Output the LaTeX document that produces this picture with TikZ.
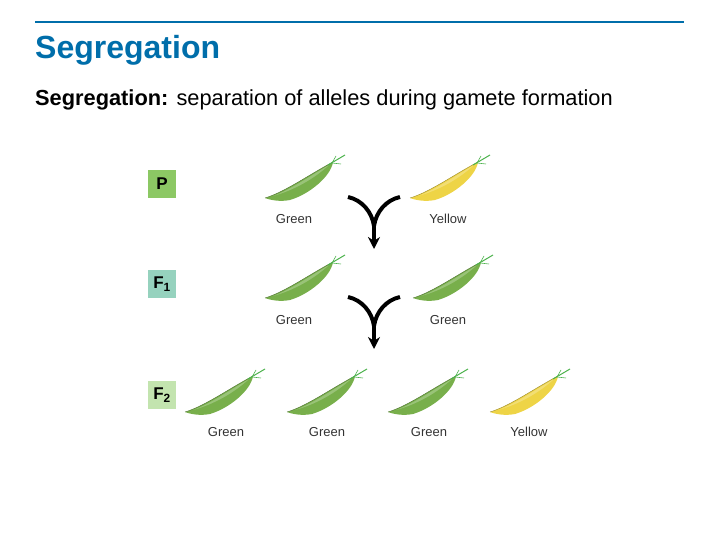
\documentclass[tikz,border=0pt]{standalone}
\usepackage{fontspec}
\setmainfont{Liberation Sans}
\usetikzlibrary{arrows.meta}
\definecolor{ttl}{RGB}{0,110,170}
\definecolor{pg}{RGB}{120,175,75}
\definecolor{py}{RGB}{238,212,70}
\definecolor{bP}{RGB}{140,200,100}
\definecolor{bF}{RGB}{150,210,190}
\definecolor{bFF}{RGB}{195,228,175}
\tikzset{
  gen/.style={minimum width=28pt,minimum height=28pt,inner sep=0pt,font=\bfseries\fontsize{17}{17}\selectfont},
  lab/.style={font=\fontsize{13}{13}\selectfont,text=black!80},
  pod/.pic={
    \fill[#1] (0,0) .. controls (20,-6) and (45,-24) .. (68,-36)
      .. controls (66,-22) and (45,-4) .. (25,2) .. controls (15,4) and (5,2) .. (0,0) -- cycle;
    \fill[white,opacity=0.25] (8,-2) .. controls (25,-8) and (45,-22) .. (64,-33)
      .. controls (50,-20) and (30,-8) .. (8,-2) -- cycle;
    \draw[#1!65!black,line width=0.4pt] (0,0) .. controls (20,-6) and (45,-24) .. (68,-36);
    \draw[green!40!gray,line width=1pt] (63,-33) -- (80,-43);
    \draw[green!40!gray,line width=0.6pt] (67,-35) -- (76,-34) (67,-35) -- (71,-42);
  },
  link/.style={line width=4pt,black},
}
\begin{document}
\begin{tikzpicture}[x=1pt,y=-1pt]
\useasboundingbox (0,0) rectangle (720,540);
\draw[ttl,line width=2.5pt] (35,22) -- (684,22);
\node[anchor=west,inner sep=0pt,text=ttl,font=\bfseries\fontsize{32}{32}\selectfont] (title) at (35,50) {Segregation};
\node[anchor=west,inner sep=0pt,font=\fontsize{21.8}{22}\selectfont] (sub) at (35,100) {\textbf{Segregation:} separation of alleles during gamete formation};
\node[gen,fill=bP] (P) at (162,184) {P};
\node[gen,fill=bF] (F1) at (162,284) {F\textsubscript{1}};
\node[gen,fill=bFF] (F2) at (162,395) {F\textsubscript{2}};
\pic at (265,198) {pod=pg};
\pic at (410,198) {pod=py};
\pic at (265,298) {pod=pg};
\pic at (413,298) {pod=pg};
\pic at (185,412) {pod=pg};
\pic at (287,412) {pod=pg};
\pic at (388,412) {pod=pg};
\pic at (490,412) {pod=py};
\node[lab] (g1) at (294,219) {Green};
\node[lab] (y1) at (448,219) {Yellow};
\node[lab] (g2) at (294,320) {Green};
\node[lab] (g3) at (448,320) {Green};
\node[lab] (g4) at (226,432) {Green};
\node[lab] (g5) at (327,432) {Green};
\node[lab] (g6) at (429,432) {Green};
\node[lab] (y2) at (529,432) {Yellow};
\foreach \dy/\n in {0/a,100/b}{
  \coordinate (l\n) at (348,197+\dy);
  \coordinate (r\n) at (400,197+\dy);
  \coordinate (m\n) at (374,226+\dy);
  \coordinate (e\n) at (374,249+\dy);
  \draw[link] (l\n) .. controls (362,200+\dy) and (372,212+\dy) .. (m\n);
  \draw[link] (r\n) .. controls (386,200+\dy) and (376,212+\dy) .. (m\n);
  \draw[link,-{Stealth[length=12pt,width=12pt]}] (m\n) -- (e\n);
}
\end{tikzpicture}
\end{document}
